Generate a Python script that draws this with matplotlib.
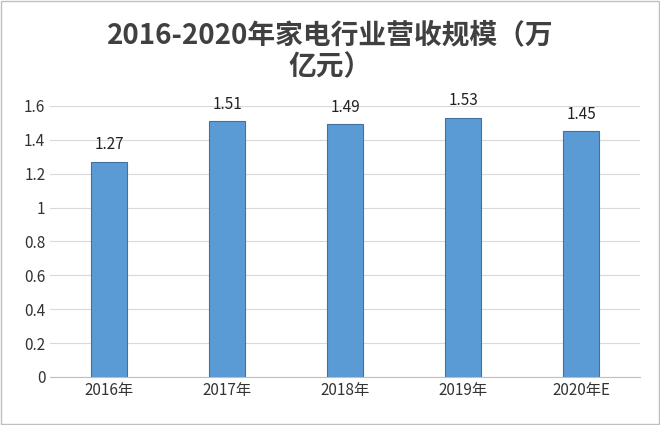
import numpy as np
import matplotlib; matplotlib.use("Agg")
import matplotlib.pyplot as plt

plt.rcParams['font.family'] = ['Noto Sans CJK SC', 'DejaVu Sans']

years = ['2016年', '2017年', '2018年', '2019年', '2020年E']
revenue = [1.27, 1.51, 1.49, 1.53, 1.45]

fig = plt.figure(figsize=(6.6, 4.25), dpi=100)
ax = fig.add_axes([0.076, 0.113, 0.894, 0.638])
x = np.arange(len(years))
ax.bar(x, revenue, width=0.31, color='#5B9BD5', edgecolor='#41719C', lw=0.8, zorder=2)
for xi, v in zip(x, revenue):
    ax.text(xi, v + 0.05, f'{v:.2f}', ha='center', va='bottom', fontsize=11, color='#222222')
ax.set_ylim(0, 1.6)
ax.set_xlim(-0.5, 4.5)
ax.set_yticks(np.arange(0, 1.61, 0.2))
ax.set_yticklabels(['0', '0.2', '0.4', '0.6', '0.8', '1', '1.2', '1.4', '1.6'])
ax.set_xticks(x)
ax.set_xticklabels(years)
ax.tick_params(labelsize=11, length=0, colors='#333333')
ax.grid(axis='y', color='#D9D9D9', lw=0.8, zorder=0)
for s in ['top', 'right', 'left']:
    ax.spines[s].set_visible(False)
ax.spines['bottom'].set_color('#BFBFBF')

fig.text(0.5, 0.81, '2016-2020年家电行业营收规模（万\n亿元）', ha='center', va='bottom',
         fontsize=20, fontweight='bold', color='#404040', linespacing=1.15)
fig.patches.append(plt.Rectangle((0.002, 0.002), 0.996, 0.996, transform=fig.transFigure,
                                 fill=False, ec='#BFBFBF', lw=1))
fig.savefig('out.png', dpi=100)
